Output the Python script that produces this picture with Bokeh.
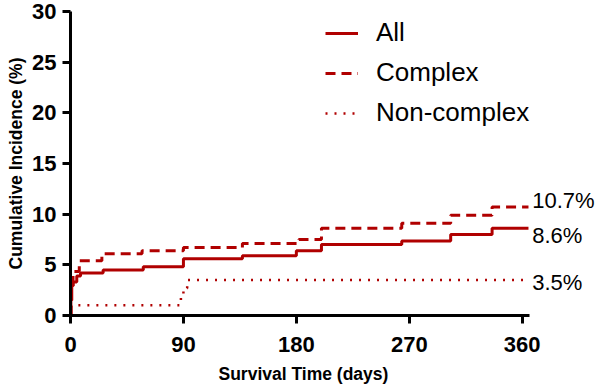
from bokeh.plotting import figure
from bokeh.models import (ColumnDataSource, Range1d, FixedTicker, Legend,
                          LegendItem, Title)
from bokeh.core.properties import value
from bokeh.embed import file_html
from bokeh.resources import INLINE

# ---- data ----
days_all = [0, 0.3, 1, 2, 5, 8, 26, 58, 90, 137, 180, 200, 264, 303, 336, 365]
inc_all = [0, 1.5, 2.9, 3.3, 3.9, 4.2, 4.5, 4.8, 5.6, 5.9, 6.4, 7.0, 7.35, 8.0, 8.6, 8.6]

days_complex = [0, 0.5, 2, 7, 25, 57, 90, 137, 182, 200, 264, 303, 336, 365]
inc_complex = [0, 2.5, 4.35, 5.4, 6.1, 6.4, 6.7, 7.1, 7.5, 8.6, 9.1, 9.9, 10.7, 10.7]

days_noncomplex = [0, 0.5, 88, 90, 93, 365]
inc_noncomplex = [0, 1.0, 1.9, 2.7, 3.5, 3.5]

series_names = ["All", "Complex", "Non-complex"]
end_labels = ["8.6%", "10.7%", "3.5%"]
x_ticks = [0, 90, 180, 270, 360]
y_ticks = [0, 5, 10, 15, 20, 25, 30]
x_label = "Survival Time (days)"
y_label = "Cumulative Incidence (%)"

FONT = "Liberation Sans"
RED = "#B00000"

p = figure(width=600, height=390, output_backend="svg", toolbar_location=None,
           x_range=Range1d(0, 422.4), y_range=Range1d(0, 30),
           min_border_left=70, min_border_right=0, min_border_top=11,
           min_border_bottom=74)
p.outline_line_color = None
p.xgrid.grid_line_color = None
p.ygrid.grid_line_color = None
p.background_fill_color = "white"
p.border_fill_color = "white"

for ax in (p.xaxis[0], p.yaxis[0]):
    ax.axis_line_width = 3
    ax.axis_line_color = "black"
    ax.major_tick_line_width = 3
    ax.major_tick_line_color = "black"
    ax.major_tick_out = 8
    ax.major_tick_in = 0
    ax.minor_tick_line_color = None
    ax.major_label_text_font = FONT
    ax.major_label_text_font_style = "bold"
    ax.major_label_text_font_size = "22px"
    ax.major_label_text_color = "black"
    ax.axis_label_text_font = FONT
    ax.axis_label_text_font_style = "bold"
    ax.axis_label_text_font_size = "17.5px"
    ax.axis_label_text_color = "black"

p.xaxis[0].ticker = FixedTicker(ticks=x_ticks)
p.yaxis[0].ticker = FixedTicker(ticks=y_ticks)
p.xaxis[0].bounds = (0, 366)
p.yaxis[0].axis_label = y_label
p.xaxis[0].major_label_standoff = 13
p.yaxis[0].major_label_standoff = 6
p.yaxis[0].axis_label_standoff = 3

xt = Title(text=x_label, align="left", offset=148, standoff=14,
           text_font=FONT, text_font_style="bold", text_font_size="17.5px",
           text_color="black")
p.add_layout(xt, "below")

r_all = p.step(days_all, inc_all, mode="after", line_color=RED, line_width=3)
r_cx = p.step(days_complex, inc_complex, mode="after", line_color=RED,
              line_width=3, line_dash="10 6")
r_nc = p.step(days_noncomplex, inc_noncomplex, mode="after", line_color=RED,
              line_width=2.5, line_dash="2 7")

# end-of-curve labels
finals = [inc_all[-1], inc_complex[-1], inc_noncomplex[-1]]
ends = [days_all[-1], days_complex[-1], days_noncomplex[-1]]
dy = [-0.73, 0.6, -0.25]
src = ColumnDataSource(dict(x=[e + 3 for e in ends],
                            y=[f + d for f, d in zip(finals, dy)],
                            t=end_labels))
p.text(x="x", y="y", text="t", source=src, text_font=value(FONT),
       text_font_size="22px", text_baseline="middle", text_align="left",
       text_color="black")

legend = Legend(items=[LegendItem(label=series_names[0], renderers=[r_all]),
                       LegendItem(label=series_names[1], renderers=[r_cx]),
                       LegendItem(label=series_names[2], renderers=[r_nc])],
                location=(255, 187))
legend.border_line_color = None
legend.background_fill_alpha = 0
legend.padding = 0
legend.margin = 0
legend.spacing = 9
legend.glyph_width = 33
legend.glyph_height = 30
legend.label_height = 30
legend.label_standoff = 18
legend.label_text_font = FONT
legend.label_text_font_size = "26px"
legend.label_text_color = "black"
p.add_layout(legend)

open("out.html", "w").write(file_html(p, INLINE))
